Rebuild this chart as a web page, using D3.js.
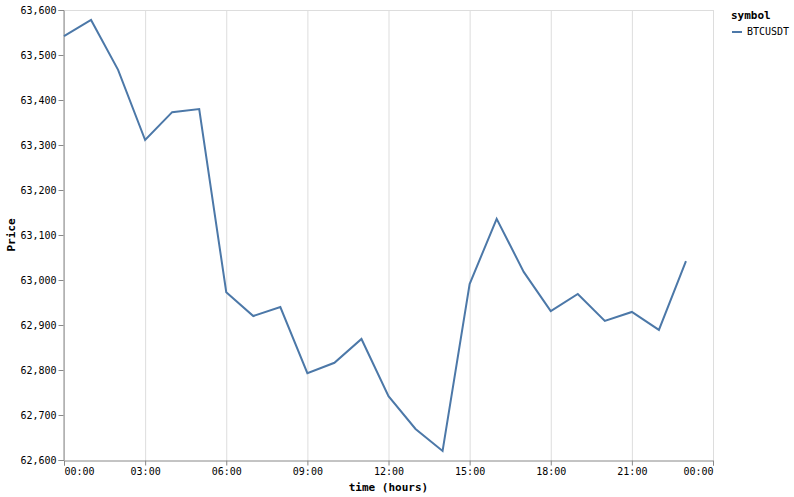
<!DOCTYPE html><html><head><meta charset="utf-8"><script src="https://cdn.jsdelivr.net/npm/d3@7"></script>
<style>body{margin:0;background:#fff}text{font-family:"DejaVu Sans Mono",monospace}</style></head><body><svg id="c" width="794" height="497"></svg><script>
const hours=[0,1,2,3,4,5,6,7,8,9,10,11,12,13,14,15,16,17,18,19,20,21,22,23];
const prices=[63542,63578,63467,63311,63373,63380,62973,62920,62940,62793,62816,62869,62742,62669,62620,62991,63136,63018,62931,62969,62909,62929,62889,63042];
const yTicks=[62600,62700,62800,62900,63000,63100,63200,63300,63400,63500,63600];
const xTicks=[0,3,6,9,12,15,18,21,24];
const svg=d3.select("#c"),L=64,R=713,T=10,B=460;
const x=d3.scaleLinear().domain([0,24]).range([L,R]);
const y=d3.scaleLinear().domain([62600,63600]).range([B,T]);
const g=svg.append("g");
g.selectAll(".gx").data(xTicks).join("line").attr("x1",d=>x(d)+.5).attr("x2",d=>x(d)+.5).attr("y1",T).attr("y2",B).attr("stroke","#ddd");
g.append("line").attr("x1",L).attr("x2",R).attr("y1",T+.5).attr("y2",T+.5).attr("stroke","#ddd");
const fmt=d=>String(d%24).padStart(2,"0")+":00";
const xa=svg.append("g").attr("transform",`translate(0,${B+.5})`).call(d3.axisBottom(x).tickValues(xTicks).tickFormat(fmt).tickSize(5).tickPadding(2));
const ya=svg.append("g").attr("transform",`translate(${L-.5},0)`).call(d3.axisLeft(y).tickValues(yTicks).tickFormat(d3.format(",")).tickSize(5).tickPadding(2));
[xa,ya].forEach(a=>{a.selectAll("path,line").attr("stroke","#888");a.selectAll("text").attr("fill","#000").style("font-size","10px").style("font-family","DejaVu Sans Mono")});
xa.selectAll("text").attr("text-anchor",(d,i)=>i===0?"start":(i===xTicks.length-1?"end":"middle"));
svg.append("path").datum(hours.map((h,i)=>[h,prices[i]])).attr("fill","none").attr("stroke","#4c78a8").attr("stroke-width",2)
 .attr("d",d3.line().x(d=>x(d[0])).y(d=>y(d[1])));
svg.append("text").attr("x",(L+R)/2).attr("y",491).attr("text-anchor","middle").style("font-size","11px").style("font-weight","bold").text("time (hours)");
svg.append("text").attr("transform",`translate(15,${(T+B)/2}) rotate(-90)`).attr("text-anchor","middle").style("font-size","11px").style("font-weight","bold").text("Price");
svg.append("text").attr("x",731).attr("y",19).style("font-size","11px").style("font-weight","bold").text("symbol");
svg.append("line").attr("x1",732).attr("x2",742).attr("y1",32).attr("y2",32).attr("stroke","#4c78a8").attr("stroke-width",2);
svg.append("text").attr("x",747).attr("y",35).style("font-size","10px").text("BTCUSDT");
</script></body></html>
